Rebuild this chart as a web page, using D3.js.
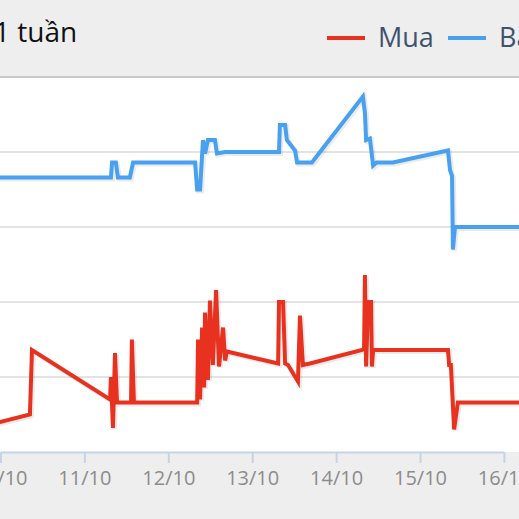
<!DOCTYPE html>
<html>
<head>
<meta charset="utf-8">
<script src="https://cdnjs.cloudflare.com/ajax/libs/d3/7.8.5/d3.min.js"></script>
<style>
  html, body { margin: 0; padding: 0; background: #eeeeee; }
  svg { display: block; font-family: "Open Sans", "DejaVu Sans", sans-serif; }
</style>
</head>
<body>
<svg width="519" height="519"></svg>
<script>
// gia vang 1 tuan: Mua (red) va Ban (blue)
var muaTimes = ["10-09 21:00","10-09 23:50","10-10 08:25","10-10 09:00","10-11 07:20","10-11 07:35","10-11 08:10","10-11 08:45",
  "10-11 09:20","10-11 13:20","10-11 13:35","10-11 14:10","10-12 08:15","10-12 08:30","10-12 09:05","10-12 09:40","10-12 10:15",
  "10-12 10:30","10-12 11:20","10-12 11:55","10-12 12:45","10-12 13:40","10-12 14:30","10-12 15:40","10-12 16:15","10-12 16:45",
  "10-13 07:25","10-13 07:40","10-13 08:50","10-13 09:25","10-13 10:15","10-13 13:05","10-13 13:40","10-13 14:30","10-13 16:30",
  "10-14 07:25","10-14 08:00","10-14 08:15","10-14 08:35","10-14 09:10","10-14 10:00","10-14 10:15","10-14 10:35",
  "10-15 08:00","10-15 08:20","10-15 08:50","10-15 09:45","10-15 10:50","10-16 07:30"];
var muaValues = [36319,36320,36325,36368,36335,36350,36316,36366,
  36333,36333,36375,36333,36333,36375,36335,36383,36343,
  36393,36348,36401,36358,36408,36357,36383,36361,36367,
  36359,36400,36400,36359,36358,36347,36391,36358,36359,
  36368,36369,36418,36357,36400,36400,36357,36368,
  36368,36358,36358,36315,36333,36333];

var banTimes = ["10-09 21:00","10-11 07:35","10-11 07:55","10-11 09:00","10-11 09:35","10-11 13:00","10-11 13:55",
  "10-12 07:40","10-12 08:15","10-12 09:05","10-12 09:55","10-12 10:30","10-12 11:20","10-12 13:20","10-12 13:55","10-12 16:15",
  "10-13 07:40","10-13 07:55","10-13 09:25","10-13 09:55","10-13 12:15","10-13 12:50","10-13 17:05",
  "10-14 07:40","10-14 08:15","10-14 08:35","10-14 09:40","10-14 10:35","10-14 11:35","10-14 16:15",
  "10-15 08:00","10-15 08:35","10-15 09:10","10-15 09:25","10-15 10:00","10-16 07:30"];
var banValues = [36483,36483,36493,36493,36483,36483,36493,
  36493,36475,36475,36508,36499,36508,36508,36499,36500,
  36500,36518,36518,36508,36501,36493,36493,
  36537,36526,36508,36509,36491,36493,36493,
  36501,36488,36484,36435,36450,36450];

var tickDays = ["10-10","10-11","10-12","10-13","10-14","10-15","10-16"];
var gridValues = [36350, 36400, 36450, 36500];
var seriesNames = ["Mua", "Bán"];
var colors = ["#e8321f", "#48a0f0"];

var parseT = d3.timeParse("%Y-%m-%d %H:%M");
var parseD = d3.timeParse("%Y-%m-%d");
function mk(times, vals) {
  return times.map(function(t, i) { return {t: parseT("2018-" + t), v: vals[i]}; });
}
var mua = mk(muaTimes, muaValues);
var ban = mk(banTimes, banValues);

var svg = d3.select("svg"),
    width = +svg.attr("width"),
    height = +svg.attr("height");

var plotTop = 78, plotBottom = 452;

var x = d3.scaleTime()
    .domain([parseD("2018-10-10"), parseD("2018-10-16")])
    .range([0.5, 503.9]);
var y = d3.scaleLinear()
    .domain([36300, 36550])
    .range([plotBottom, plotTop - 1]);

// plot background
svg.append("rect").attr("x", 0).attr("y", plotTop).attr("width", width)
  .attr("height", plotBottom - plotTop).attr("fill", "#ffffff");
svg.append("line").attr("x1", 0).attr("x2", width).attr("y1", plotTop - 1).attr("y2", plotTop - 1)
  .attr("stroke", "#c8c8c8").attr("stroke-width", 2);

// grid
svg.append("g").selectAll("line").data(gridValues).enter().append("line")
  .attr("x1", 0).attr("x2", width)
  .attr("y1", function(d) { return y(d); }).attr("y2", function(d) { return y(d); })
  .attr("stroke", "#dadada").attr("stroke-width", 1.5);

// x axis
var xAxis = d3.axisBottom(x)
  .tickValues(tickDays.map(function(d) { return parseD("2018-" + d); }))
  .tickFormat(d3.timeFormat("%d/%m"))
  .tickSize(11).tickSizeOuter(0);
var gx = svg.append("g").attr("transform", "translate(0," + plotBottom + ")").call(xAxis);
gx.select(".domain").attr("stroke", "#c6d3e4").attr("stroke-width", 2);
gx.selectAll(".tick line").attr("stroke", "#c6d3e4").attr("stroke-width", 2);
gx.selectAll(".tick text").attr("fill", "#8c8c8c").attr("font-size", "20px")
  .attr("dy", "0.71em").attr("y", 19).style("font-family", "'Open Sans', sans-serif");

// lines
svg.append("defs").append("clipPath").attr("id", "clip")
  .append("rect").attr("x", 0).attr("y", plotTop).attr("width", width).attr("height", plotBottom - plotTop);

var line = d3.line().x(function(d) { return x(d.t); }).y(function(d) { return y(d.v); });
var lg = svg.append("g").attr("clip-path", "url(#clip)");
[mua, ban].forEach(function(s, i) {
  lg.append("path").datum(s).attr("d", line)
    .attr("transform", "translate(1.5,1.5)")
    .attr("fill", "none").attr("stroke", "rgba(0,0,0,0.08)").attr("stroke-width", 5)
    .attr("stroke-linejoin", "miter");
  lg.append("path").datum(s).attr("d", line)
    .attr("fill", "none").attr("stroke", colors[i]).attr("stroke-width", 4)
    .attr("stroke-linejoin", "miter");
});

// title
svg.append("text").attr("x", -6).attr("y", 42).attr("font-size", "28px")
  .attr("fill", "#111111").text("1 tuần");

// legend
var legX = [327, 448];
seriesNames.forEach(function(n, i) {
  svg.append("line").attr("x1", legX[i]).attr("x2", legX[i] + 38).attr("y1", 38).attr("y2", 38)
    .attr("stroke", colors[i]).attr("stroke-width", 4);
  svg.append("text").attr("x", legX[i] + 51).attr("y", 47).attr("font-size", "27px")
    .attr("fill", "#3f526e").text(n);
});
</script>
</body>
</html>
